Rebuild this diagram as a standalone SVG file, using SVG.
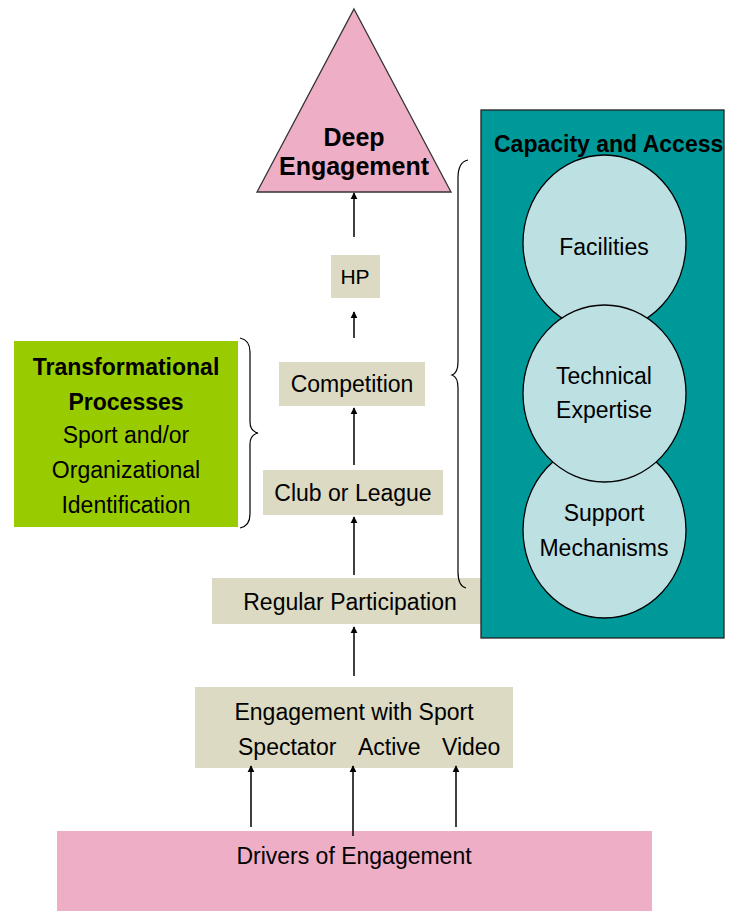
<svg xmlns="http://www.w3.org/2000/svg" width="736" height="911" viewBox="0 0 736 911">
<style>
text{font-family:"Liberation Sans",Arial,sans-serif;font-size:23px;fill:#000;text-anchor:middle}
.b{font-weight:bold}
.beige{fill:#DCDAC2}
.pink{fill:#EEAEC6}
.circ{fill:#BDE0E3;stroke:#000;stroke-width:1.3}
.arr{stroke:#000;stroke-width:1.5;fill:none;marker-end:url(#ah)}
.brace{stroke:#000;stroke-width:1.2;fill:none}
</style>
<defs>
<marker id="ah" viewBox="0 0 10 10" refX="9" refY="5" markerWidth="7" markerHeight="8" markerUnits="userSpaceOnUse" orient="auto">
<path d="M0,0 L10,5 L0,10 z" fill="#000"/>
</marker>
</defs>
<rect width="736" height="911" fill="#fff"/>

<g id="drivers">
<rect x="57" y="831" width="595" height="80" class="pink"/>
<text x="354" y="864">Drivers of Engagement</text>
</g>

<g id="engagement-sport">
<rect x="195" y="687" width="318" height="81" class="beige"/>
<text x="354" y="720">Engagement with Sport</text>
<text x="238" y="755" style="text-anchor:start">Spectator</text>
<text x="358" y="755" style="text-anchor:start">Active</text>
<text x="442" y="755" style="text-anchor:start">Video</text>
</g>

<g id="regular">
<rect x="212" y="578" width="270" height="46" class="beige"/>
<text x="350" y="610">Regular Participation</text>
</g>

<g id="club">
<rect x="263" y="470" width="180" height="45" class="beige"/>
<text x="353" y="501">Club or League</text>
</g>

<g id="competition">
<rect x="279" y="362" width="146" height="44" class="beige"/>
<text x="352" y="392">Competition</text>
</g>

<g id="hp">
<rect x="331" y="255" width="49" height="43" class="beige"/>
<text x="355" y="284" style="font-size:21px">HP</text>
</g>

<g id="deep">
<polygon points="354,9 451,192 257,192" class="pink" stroke="#333" stroke-width="1.3"/>
<text x="354" y="146" class="b" style="font-size:25px">Deep</text>
<text x="354" y="175" class="b" style="font-size:25px">Engagement</text>
</g>

<g id="transformational">
<rect x="14" y="341" width="224" height="186" fill="#99CC00"/>
<text x="126" y="375" class="b">Transformational</text>
<text x="126" y="410" class="b">Processes</text>
<text x="126" y="443">Sport and/or</text>
<text x="126" y="478">Organizational</text>
<text x="126" y="513">Identification</text>
</g>

<g id="capacity">
<rect x="481" y="110" width="243" height="528" fill="#009999" stroke="#222" stroke-width="1.3"/>
<text x="494" y="152" class="b" style="text-anchor:start;font-size:23px">Capacity and Access</text>
<g id="facilities">
<ellipse cx="604.5" cy="243" rx="81.5" ry="88" class="circ"/>
<text x="604" y="255">Facilities</text>
</g>
<g id="support">
<ellipse cx="604.5" cy="530" rx="81.5" ry="88" class="circ"/>
<text x="604" y="521">Support</text>
<text x="604" y="556">Mechanisms</text>
</g>
<g id="technical">
<ellipse cx="604.5" cy="393.5" rx="81.5" ry="88.5" class="circ"/>
<text x="604" y="384">Technical</text>
<text x="604" y="418">Expertise</text>
</g>
</g>

<g id="braces">
<path class="brace" d="M240,338 Q250,340 250,352 L250,422 Q250,431 258,433 Q250,435 250,444 L250,514 Q250,526 240,528"/>
<path class="brace" d="M468,160 Q458,162 458,178 L458,362 Q458,373 452,375 Q458,377 458,388 L458,572 Q458,586 466,588"/>
</g>

<g id="connectors">
<line class="arr" x1="354" y1="237" x2="354" y2="193"/>
<line class="arr" x1="354" y1="338" x2="354" y2="312"/>
<line class="arr" x1="354" y1="465" x2="354" y2="408"/>
<line class="arr" x1="354" y1="575" x2="354" y2="517"/>
<line class="arr" x1="354" y1="676" x2="354" y2="627"/>
<line class="arr" x1="251" y1="827" x2="251" y2="766"/>
<line class="arr" x1="353" y1="836" x2="353" y2="766"/>
<line class="arr" x1="456" y1="827" x2="456" y2="766"/>
</g>
</svg>
